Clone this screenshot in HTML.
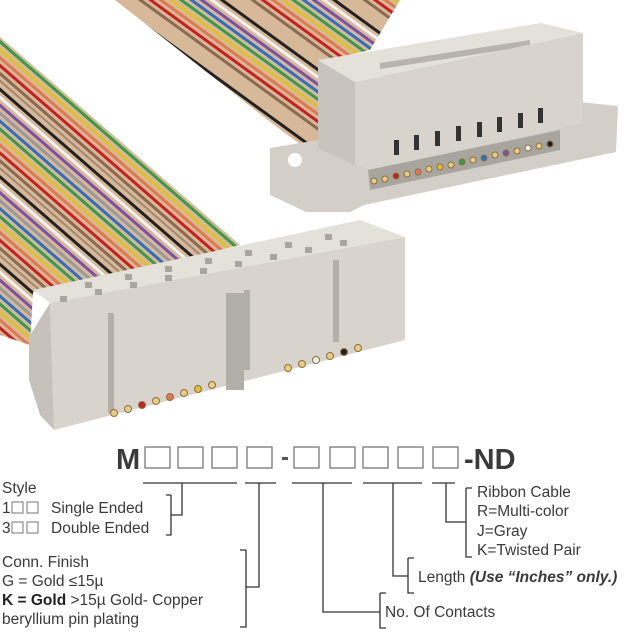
<!DOCTYPE html>
<html><head><meta charset="utf-8"><style>
html,body{margin:0;padding:0;background:#fff;}
svg{display:block;}
text{font-family:"Liberation Sans",Arial,sans-serif;fill:#3a3a3a;}
</style></head><body>
<svg width="640" height="640" viewBox="0 0 640 640" xmlns="http://www.w3.org/2000/svg">
<defs>
<pattern id="wA" width="60" height="66" patternUnits="userSpaceOnUse" patternTransform="rotate(41)">
<rect width="60" height="66" fill="#d7b898"/>
<rect y="0" width="60" height="3" fill="#222"/>
<rect y="6" width="60" height="3" fill="#f2f2f2"/>
<rect y="12" width="60" height="3" fill="#7a50a8"/>
<rect y="18" width="60" height="3" fill="#999"/>
<rect y="24" width="60" height="3" fill="#2f6fc0"/>
<rect y="30" width="60" height="3" fill="#3a9a48"/>
<rect y="36" width="60" height="3" fill="#e0c030"/>
<rect y="42" width="60" height="3" fill="#e07850"/>
<rect y="48" width="60" height="3" fill="#c82020"/>
<rect y="54" width="60" height="3" fill="#8a6a50"/>
<rect y="60" width="60" height="2" fill="#a08870"/>
</pattern>
<pattern id="wB" width="60" height="66" patternUnits="userSpaceOnUse" patternTransform="rotate(36)">
<rect width="60" height="66" fill="#d7b898"/>
<rect y="0" width="60" height="3" fill="#222"/>
<rect y="6" width="60" height="3" fill="#f2f2f2"/>
<rect y="12" width="60" height="3" fill="#7a50a8"/>
<rect y="18" width="60" height="3" fill="#2f6fc0"/>
<rect y="24" width="60" height="3" fill="#3a9a48"/>
<rect y="30" width="60" height="3" fill="#e0c030"/>
<rect y="36" width="60" height="3" fill="#e07850"/>
<rect y="42" width="60" height="3" fill="#c82020"/>
<rect y="48" width="60" height="3" fill="#8a6a50"/>
</pattern>
</defs>
<!-- upper ribbon -->
<polygon points="115,0 400,0 370,50 318,62 318,160 306,150" fill="url(#wB)"/>
<!-- lower ribbon -->
<polygon points="0,37 240,245 120,275 33,292 30,345 0,335" fill="url(#wA)"/>
<!-- right connector -->
<polygon points="270,148 560,100 618,106 616,152 364,205 350,212 306,212 270,195" fill="#d3cfc8"/>
<circle cx="295" cy="160" r="7" fill="#fff"/>
<polygon points="318,60 541,23 583,33 355,82" fill="#e4e1db"/>
<polygon points="380,63 530,40 530,46 380,69" fill="#b8b4ad"/>
<polygon points="355,82 583,33 583,123 372,170 355,165" fill="#d8d4cd"/>
<polygon points="318,60 355,82 355,165 318,148" fill="#c8c4bd"/>
<g fill="#333">
<rect x="394" y="140" width="5" height="15"/><rect x="414" y="135" width="5" height="15"/><rect x="435" y="131" width="5" height="15"/><rect x="456" y="126" width="5" height="15"/><rect x="477" y="122" width="5" height="15"/><rect x="497" y="117" width="5" height="15"/><rect x="518" y="113" width="5" height="15"/><rect x="538" y="108" width="5" height="15"/>
</g>
<polygon points="368,170 560,130 560,150 370,190" fill="#a8a49e"/>
<g stroke="#8a7040" stroke-width="1">
<circle cx="374" cy="181" r="3" fill="#e8cc80"/><circle cx="385" cy="179" r="3" fill="#e8cc80"/><circle cx="396" cy="176" r="3" fill="#c82020"/><circle cx="407" cy="174" r="3" fill="#e8cc80"/><circle cx="418" cy="172" r="3" fill="#e07850"/><circle cx="429" cy="169" r="3" fill="#e8cc80"/><circle cx="440" cy="167" r="3" fill="#e0c030"/><circle cx="451" cy="165" r="3" fill="#e8cc80"/><circle cx="462" cy="162" r="3" fill="#3a9a48"/><circle cx="473" cy="160" r="3" fill="#e8cc80"/><circle cx="484" cy="158" r="3" fill="#2f6fc0"/><circle cx="495" cy="155" r="3" fill="#e8cc80"/><circle cx="506" cy="153" r="3" fill="#7a50a8"/><circle cx="517" cy="151" r="3" fill="#e8cc80"/><circle cx="528" cy="148" r="3" fill="#eee"/><circle cx="539" cy="146" r="3" fill="#e8cc80"/><circle cx="550" cy="144" r="3" fill="#222"/>
</g>
<!-- front connector -->
<polygon points="33,290 360,220 405,237 50,303" fill="#e4e1db"/>
<polygon points="50,303 405,237 405,340 54,430" fill="#d8d4cd"/>
<polygon points="29,337 50,303 54,430 40,415 29,380" fill="#c6c2bb"/>
<g fill="#a9a5a0">
<rect x="60" y="296" width="7" height="6"/><rect x="95" y="289" width="7" height="6"/><rect x="130" y="282" width="7" height="6"/><rect x="165" y="275" width="7" height="6"/><rect x="200" y="268" width="7" height="6"/><rect x="235" y="261" width="7" height="6"/><rect x="270" y="254" width="7" height="6"/><rect x="305" y="247" width="7" height="6"/><rect x="340" y="240" width="7" height="6"/>
<rect x="85" y="282" width="7" height="6"/><rect x="125" y="274" width="7" height="6"/><rect x="165" y="266" width="7" height="6"/><rect x="205" y="258" width="7" height="6"/><rect x="245" y="250" width="7" height="6"/><rect x="285" y="242" width="7" height="6"/><rect x="325" y="234" width="7" height="6"/>
</g>
<g fill="#b2aea8">
<rect x="108" y="313" width="6" height="100"/><rect x="226" y="293" width="18" height="97"/><rect x="244" y="290" width="6" height="80"/><rect x="333" y="260" width="6" height="82"/>
</g>
<g stroke="#8a7040" stroke-width="1">
<circle cx="114" cy="413" r="3.5" fill="#e8cc80"/><circle cx="128" cy="409" r="3.5" fill="#e8cc80"/><circle cx="142" cy="405" r="3.5" fill="#c82020"/><circle cx="156" cy="401" r="3.5" fill="#e8cc80"/><circle cx="170" cy="397" r="3.5" fill="#e07850"/><circle cx="184" cy="393" r="3.5" fill="#e8cc80"/><circle cx="198" cy="389" r="3.5" fill="#e0c030"/><circle cx="212" cy="385" r="3.5" fill="#e8cc80"/>
<circle cx="288" cy="368" r="3.5" fill="#e8cc80"/><circle cx="302" cy="364" r="3.5" fill="#e8cc80"/><circle cx="316" cy="360" r="3.5" fill="#eee"/><circle cx="330" cy="356" r="3.5" fill="#e8cc80"/><circle cx="344" cy="352" r="3.5" fill="#222"/><circle cx="358" cy="348" r="3.5" fill="#e8cc80"/>
</g>
<!-- part number -->
<text x="116" y="469" font-size="29" font-weight="bold">M</text>
<g fill="none" stroke="#777" stroke-width="1.3">
<rect x="145" y="447" width="25" height="21"/><rect x="178" y="447" width="25" height="21"/><rect x="212" y="447" width="25" height="21"/><rect x="247" y="447" width="25" height="21"/>
<rect x="294" y="447" width="25" height="21"/><rect x="330" y="447" width="25" height="21"/><rect x="363" y="447" width="25" height="21"/><rect x="398" y="447" width="25" height="21"/><rect x="433" y="447" width="25" height="21"/>
</g>
<rect x="282" y="457" width="6" height="3" fill="#555"/>
<text x="464" y="469" font-size="29" font-weight="bold">-ND</text>
<!-- connectors -->
<g fill="none" stroke="#333" stroke-width="1.3">
<path d="M143,483H237M245,483H276M292,483H352M363,483H422M432,483H455"/>
<path d="M182,483V515H171M171,495V535H166M166,495H171"/>
<path d="M259,483V587H246M246,550V627H240M240,550H246"/>
<path d="M323,483V612H380M380,593V628H386M380,593H386"/>
<path d="M393,483V576H408M408,558V593H414M408,558H414"/>
<path d="M446,483V522H466M466,488V557H472M466,488H472"/>
</g>
<!-- labels -->
<g font-size="15.5">
<text x="2" y="493">Style</text>
<text x="2" y="513">1</text>
<text x="2" y="533">3</text>
<text x="51" y="513">Single Ended</text>
<text x="51" y="533">Double Ended</text>
<text x="2" y="567">Conn. Finish</text>
<text x="2" y="586">G = Gold ≤15µ</text>
<text x="2" y="605"><tspan font-weight="bold" fill="#222">K = Gold</tspan> &gt;15µ Gold- Copper</text>
<text x="2" y="624">beryllium pin plating</text>
<text x="477" y="497">Ribbon Cable</text>
<text x="477" y="516">R=Multi-color</text>
<text x="477" y="536">J=Gray</text>
<text x="477" y="555">K=Twisted Pair</text>
<text x="418" y="582">Length <tspan font-weight="bold" font-style="italic">(Use “Inches” only.)</tspan></text>
<text x="385" y="617">No. Of Contacts</text>
</g>
<g fill="none" stroke="#777" stroke-width="1">
<rect x="12" y="502" width="11" height="11"/><rect x="27" y="502" width="11" height="11"/>
<rect x="12" y="522" width="11" height="11"/><rect x="27" y="522" width="11" height="11"/>
</g>
</svg>
</body></html>
